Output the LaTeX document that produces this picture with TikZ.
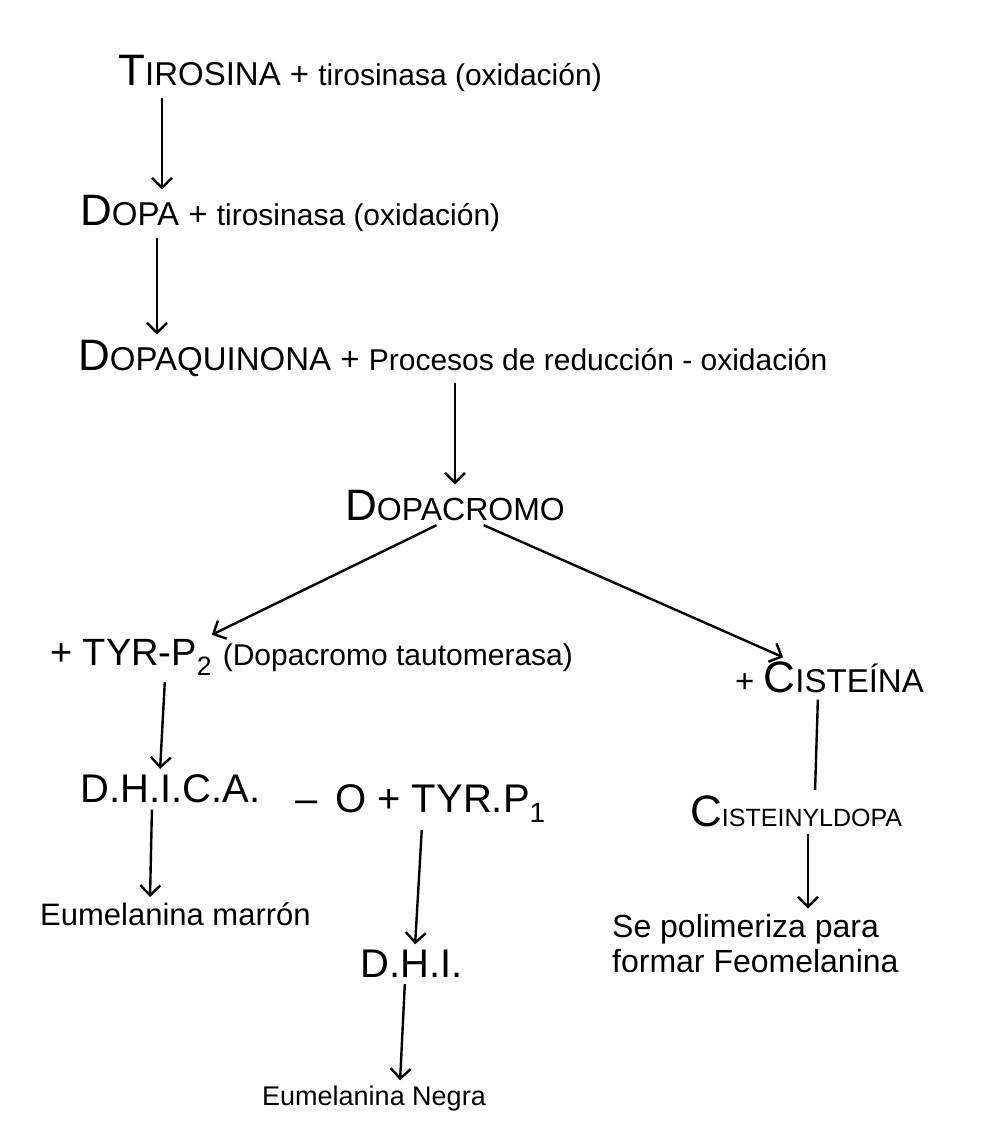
\documentclass[tikz,border=0pt]{standalone}
\usepackage{fontspec}
\setmainfont{Liberation Sans}
\usetikzlibrary{arrows.meta}

\newcommand{\bigini}[1]{{\fontsize{44}{48}\selectfont #1}}
\newcommand{\lowtxt}[1]{{\fontsize{30}{34}\selectfont #1}}

\begin{document}
\begin{tikzpicture}[x=1pt,y=-1pt,
    caps/.style={anchor=base west, inner sep=3pt, font=\fontsize{33}{37}\selectfont},
    note/.style={anchor=base west, inner sep=3pt, font=\fontsize{30}{34}\selectfont},
    arrow/.style={line width=2.4pt,-{Straight Barb[length=10pt,width=20pt]},shorten <=4pt,shorten >=2pt},
    link/.style={line width=2.4pt,shorten <=4pt,shorten >=2pt}
]
\useasboundingbox[fill=white] (0,0) rectangle (992,1133);

% main chain
\node[caps] (tirosina) at (115,85) {\bigini{T}IROSINA + \lowtxt{tirosinasa (oxidación)}};
\node[caps] (dopa) at (77,225) {\bigini{D}OPA + \lowtxt{tirosinasa (oxidación)}};
\node[caps] (dopaquinona) at (75,370) {\bigini{D}OPAQUINONA + \lowtxt{Procesos de reducción - oxidación}};
\node[caps, font=\fontsize{32}{36}\selectfont] (dopacromo) at (342,520) {\bigini{D}OPACROMO};

% two branches
\node[caps, font=\fontsize{38}{42}\selectfont] (tyr) at (47,665) {+ TYR-P\textsubscript{2} \lowtxt{(Dopacromo tautomerasa)}};
\node[caps] (cisteina) at (732,692) {+ \bigini{C}ISTEÍNA};

\node[caps, font=\fontsize{40}{44}\selectfont] (dhica) at (77,802) {D.H.I.C.A.};
\node[caps, font=\fontsize{40}{44}\selectfont] (otyr) at (292,812) {-- \,O + TYR.P\textsubscript{1}};
\node[caps, font=\fontsize{25}{28}\selectfont] (cisteinyldopa) at (687,826) {\bigini{C}ISTEINYLDOPA};

\node[note, font=\fontsize{31}{34}\selectfont] (marron) at (37,925) {Eumelanina marrón};
\node[caps, font=\fontsize{40}{44}\selectfont] (dhi) at (357,977) {D.H.I.};
\node[note, font=\fontsize{32}{35}\selectfont, align=left] (polimeriza) at (609,972) {Se polimeriza para\\formar Feomelanina};
\node[note, font=\fontsize{27}{30}\selectfont] (negra) at (259,1105) {Eumelanina Negra};

% connectors
\draw[arrow] ([xshift=47pt]tirosina.south west) -- ([xshift=85pt]dopa.north west);
\draw[arrow] ([xshift=80pt]dopa.south west) -- ([xshift=82pt]dopaquinona.north west);
\draw[arrow] ([xshift=380pt]dopaquinona.south west) -- ([xshift=113pt]dopacromo.north west);
\draw[arrow] ([xshift=98pt]dopacromo.south west) -- ([xshift=163pt]tyr.north west);
\draw[arrow] ([xshift=138pt]dopacromo.south west) -- ([xshift=53pt]cisteina.north west);
\draw[arrow] ([xshift=118pt]tyr.south west) -- ([xshift=83pt]dhica.north west);
\draw[link] ([xshift=86pt]cisteina.south west) -- ([xshift=128pt]cisteinyldopa.north west);
\draw[arrow] ([xshift=75pt]dhica.south west) -- ([xshift=113pt]marron.north west);
\draw[arrow] ([xshift=130pt]otyr.south west) -- ([xshift=58pt]dhi.north west);
\draw[arrow] ([xshift=121pt]cisteinyldopa.south west) -- ([xshift=199pt]polimeriza.north west);
\draw[arrow] ([xshift=48pt]dhi.south west) -- ([xshift=141pt]negra.north west);

\end{tikzpicture}
\end{document}
